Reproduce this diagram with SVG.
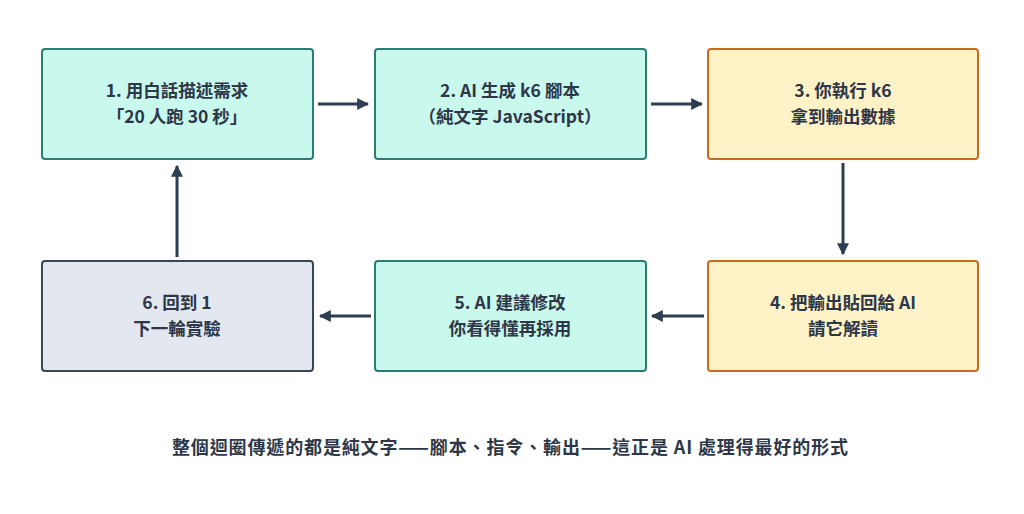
<svg xmlns="http://www.w3.org/2000/svg" width="1024" height="514" viewBox="0 0 1024 514">
<style>
text{font-family:"Noto Sans CJK TC","Noto Sans",sans-serif;font-weight:700;font-size:17.5px;fill:#2d3748;text-anchor:middle}
.b{font-size:18px}
.t{fill:#c9f8ec;stroke:#2b7d72;stroke-width:2}
.y{fill:#fff2c6;stroke:#c86a1e;stroke-width:2}
.g{fill:#e3e7ef;stroke:#3b4758;stroke-width:2}
.c line{stroke:#2d3e50;stroke-width:3;marker-end:url(#a)}
</style>
<defs><marker id="a" viewBox="0 0 10 10" refX="9" refY="5" markerWidth="4" markerHeight="4" orient="auto"><path d="M0,0L10,5L0,10z" fill="#2d3e50"/></marker></defs>
<rect width="1024" height="514" fill="#fff"/>
<g id="n1"><rect class="t" x="42" y="49" width="271" height="110" rx="3"/><text x="177" y="97">1. 用白話描述需求</text><text x="177" y="123">「20 人跑 30 秒」</text></g>
<g id="n2"><rect class="t" x="375" y="49" width="271" height="110" rx="3"/><text x="510" y="97">2. AI 生成 k6 腳本</text><text x="510" y="123">（純文字 JavaScript）</text></g>
<g id="n3"><rect class="y" x="708" y="49" width="270" height="110" rx="3"/><text x="843" y="97">3. 你執行 k6</text><text x="843" y="123">拿到輸出數據</text></g>
<g id="n4"><rect class="y" x="708" y="261" width="270" height="110" rx="3"/><text x="843" y="309">4. 把輸出貼回給 AI</text><text x="843" y="335">請它解讀</text></g>
<g id="n5"><rect class="t" x="375" y="261" width="271" height="110" rx="3"/><text x="510" y="309">5. AI 建議修改</text><text x="510" y="335">你看得懂再採用</text></g>
<g id="n6"><rect class="g" x="42" y="261" width="271" height="110" rx="3"/><text x="177" y="309">6. 回到 1</text><text x="177" y="335">下一輪實驗</text></g>
<g class="c">
<line x1="318" y1="104" x2="368" y2="104"/>
<line x1="651" y1="104" x2="702" y2="104"/>
<line x1="843" y1="163" x2="843" y2="254"/>
<line x1="704" y1="316" x2="652" y2="316"/>
<line x1="371" y1="316" x2="320" y2="316"/>
<line x1="177" y1="257" x2="177" y2="166"/>
</g>
<text class="b" x="510" y="454" textLength="676" lengthAdjust="spacing">整個迴圈傳遞的都是純文字——腳本、指令、輸出——這正是 AI 處理得最好的形式</text>
</svg>
